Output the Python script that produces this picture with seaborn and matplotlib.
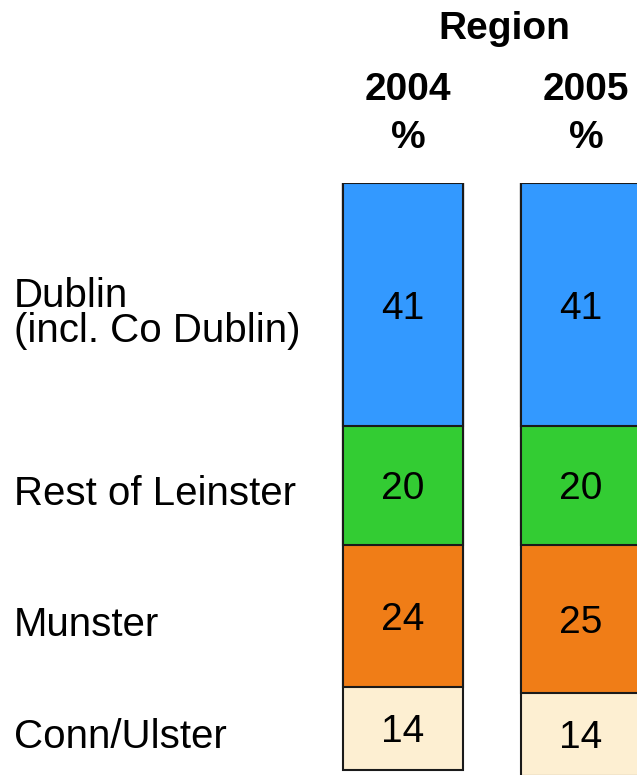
import numpy as np
import pandas as pd
import seaborn as sns
import matplotlib.pyplot as plt
import matplotlib.transforms as mtransforms

# data
years = ["2004", "2005"]
regions = ["Dublin\n(incl. Co Dublin)", "Rest of Leinster", "Munster", "Conn/Ulster"]
dublin = [41, 41]
leinster = [20, 20]
munster = [24, 25]
conn_ulster = [14, 14]
colors = ["#3399FF", "#33CC33", "#F07D17", "#FDEFD2"]

sns.set_style("white")
plt.rcParams["font.family"] = ["Liberation Sans", "DejaVu Sans"]
plt.rcParams["text.color"] = "black"

values = np.array([dublin, leinster, munster, conn_ulster])  # region x year
cum = values.cumsum(axis=0)

rows = []
for i, reg in enumerate(regions):
    for j, yr in enumerate(years):
        rows.append({"region": reg, "year": yr, "value": values[i, j],
                     "cum": cum[i, j], "mid": cum[i, j] - values[i, j] / 2})
df = pd.DataFrame(rows)

fig = plt.figure(figsize=(6.37, 7.75), dpi=100)
ax = fig.add_axes([0, 0, 1, 592 / 775])

# stacked bars: draw largest cumulative first, smaller on top
for reg, col in reversed(list(zip(regions, colors))):
    sub = df[df["region"] == reg]
    sns.barplot(data=sub, x="year", y="cum", order=years, color=col,
                saturation=1, width=0.674, errorbar=None,
                edgecolor="#1a1a1a", linewidth=1.5, ax=ax)

for _, r in df.iterrows():
    ax.text(years.index(r["year"]), r["mid"], f"{r['value']}",
            ha="center", va="center_baseline", fontsize=28, color="black")

# region labels on the left
shift = mtransforms.ScaledTranslation(0, -9 / 100, fig.dpi_scale_trans)
trans = mtransforms.blended_transform_factory(fig.transFigure, ax.transData) + shift
first = df[df["year"] == years[0]]
for _, r in first.iterrows():
    ax.text(14 / 637, r["mid"], r["region"], transform=trans, color="black",
            ha="left", va="center", fontsize=29, linespacing=0.92)

ax.set_xlim(-403 / 178, (637 - 403) / 178)
ax.set_ylim(99.85, 0)
ax.axis("off")

# headers
fig.text(504 / 637, 1 - 29 / 775, "Region", ha="center", va="center",
         fontsize=28, fontweight="bold", color="black")
for j, yr in enumerate(years):
    xfig = fig.transFigure.inverted().transform(ax.transData.transform((j, 0)))[0] + 5 / 637
    fig.text(xfig, 1 - 86 / 775, yr, ha="center", va="center_baseline",
             fontsize=28, fontweight="bold", color="black")
    fig.text(xfig, 1 - 134 / 775, "%", ha="center", va="center_baseline",
             fontsize=28, fontweight="bold", color="black")

fig.savefig("out.png", dpi=100)
